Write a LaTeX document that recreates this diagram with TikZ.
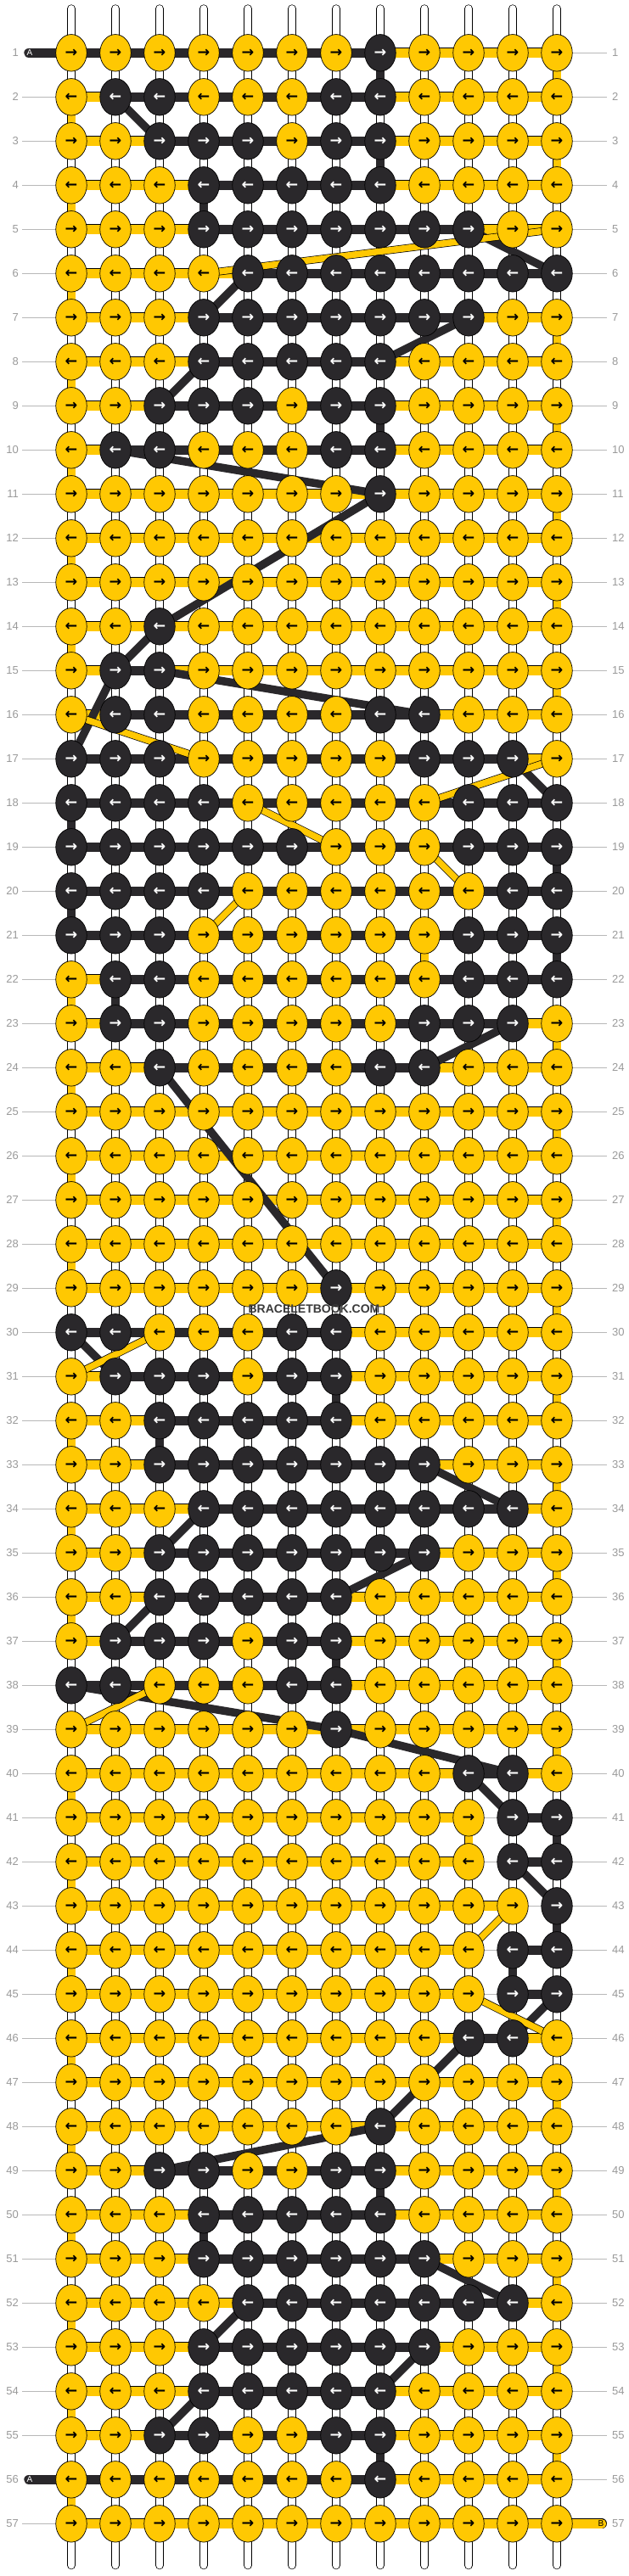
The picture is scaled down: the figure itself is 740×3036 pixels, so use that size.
\documentclass[tikz,border=0pt]{standalone}
\usepackage{fontspec}
\setmainfont{Liberation Sans}
\newfontfamily\arrowfont{DejaVu Sans}
\usetikzlibrary{shapes.geometric}
\definecolor{kyel}{HTML}{FFC802}
\definecolor{kblk}{HTML}{2A282B}
\definecolor{labgray}{HTML}{9A9A9A}
\definecolor{wmgray}{HTML}{3A3A3A}
\pgfdeclarelayer{bg}
\pgfsetlayers{bg,main}
\newcommand\karrow[1]{\ifodd#1\relax →\else ←\fi}
\def\rowdata{%
1/{0,0,0,0,0,0,0,1,0,0,0,0}/{1,1,1,1,1,1,1,0,0,0,0},
2/{0,1,1,0,0,0,1,1,0,0,0,0}/{0,1,1,1,1,1,1,0,0,0,0},
3/{0,0,1,1,1,0,1,1,0,0,0,0}/{0,0,1,1,1,1,1,0,0,0,0},
4/{0,0,0,1,1,1,1,1,0,0,0,0}/{0,0,0,1,1,1,1,0,0,0,0},
5/{0,0,0,1,1,1,1,1,1,1,0,0}/{0,0,0,1,1,1,1,1,1,0,0},
6/{0,0,0,0,1,1,1,1,1,1,1,1}/{0,0,0,0,1,1,1,1,1,1,1},
7/{0,0,0,1,1,1,1,1,1,1,0,0}/{0,0,0,1,1,1,1,1,1,0,0},
8/{0,0,0,1,1,1,1,1,0,0,0,0}/{0,0,0,1,1,1,1,0,0,0,0},
9/{0,0,1,1,1,0,1,1,0,0,0,0}/{0,0,1,1,1,1,1,0,0,0,0},
10/{0,1,1,0,0,0,1,1,0,0,0,0}/{0,1,1,1,1,1,1,0,0,0,0},
11/{0,0,0,0,0,0,0,1,0,0,0,0}/{0,0,0,0,0,0,0,0,0,0,0},
12/{0,0,0,0,0,0,0,0,0,0,0,0}/{0,0,0,0,0,0,0,0,0,0,0},
13/{0,0,0,0,0,0,0,0,0,0,0,0}/{0,0,0,0,0,0,0,0,0,0,0},
14/{0,0,1,0,0,0,0,0,0,0,0,0}/{0,0,0,0,0,0,0,0,0,0,0},
15/{0,1,1,0,0,0,0,0,0,0,0,0}/{0,1,0,0,0,0,0,0,0,0,0},
16/{0,1,1,0,0,0,0,1,1,0,0,0}/{0,1,1,1,1,1,1,1,0,0,0},
17/{1,1,1,0,0,0,0,0,1,1,1,0}/{1,1,1,1,1,1,1,1,1,1,0},
18/{1,1,1,1,0,0,0,0,0,1,1,1}/{1,1,1,1,1,1,1,1,1,1,1},
19/{1,1,1,1,1,1,0,0,0,1,1,1}/{1,1,1,1,1,1,1,1,1,1,1},
20/{1,1,1,1,0,0,0,0,0,0,1,1}/{1,1,1,1,1,1,1,1,1,1,1},
21/{1,1,1,0,0,0,0,0,0,1,1,1}/{1,1,1,1,1,1,1,1,1,1,1},
22/{0,1,1,0,0,0,0,0,0,1,1,1}/{0,1,1,1,1,1,1,1,1,1,1},
23/{0,1,1,0,0,0,0,0,1,1,1,0}/{0,1,1,1,1,1,1,1,1,1,0},
24/{0,0,1,0,0,0,0,1,1,0,0,0}/{0,0,1,1,1,1,1,1,0,0,0},
25/{0,0,0,0,0,0,0,0,0,0,0,0}/{0,0,0,0,0,0,0,0,0,0,0},
26/{0,0,0,0,0,0,0,0,0,0,0,0}/{0,0,0,0,0,0,0,0,0,0,0},
27/{0,0,0,0,0,0,0,0,0,0,0,0}/{0,0,0,0,0,0,0,0,0,0,0},
28/{0,0,0,0,0,0,0,0,0,0,0,0}/{0,0,0,0,0,0,0,0,0,0,0},
29/{0,0,0,0,0,0,1,0,0,0,0,0}/{0,0,0,0,0,0,0,0,0,0,0},
30/{1,1,0,0,0,1,1,0,0,0,0,0}/{1,1,1,1,1,1,0,0,0,0,0},
31/{0,1,1,1,0,1,1,0,0,0,0,0}/{0,1,1,1,1,1,0,0,0,0,0},
32/{0,0,1,1,1,1,1,0,0,0,0,0}/{0,0,1,1,1,1,0,0,0,0,0},
33/{0,0,1,1,1,1,1,1,1,0,0,0}/{0,0,1,1,1,1,1,1,0,0,0},
34/{0,0,0,1,1,1,1,1,1,1,1,0}/{0,0,0,1,1,1,1,1,1,1,0},
35/{0,0,1,1,1,1,1,1,1,0,0,0}/{0,0,1,1,1,1,1,1,0,0,0},
36/{0,0,1,1,1,1,1,0,0,0,0,0}/{0,0,1,1,1,1,0,0,0,0,0},
37/{0,1,1,1,0,1,1,0,0,0,0,0}/{0,1,1,1,1,1,0,0,0,0,0},
38/{1,1,0,0,0,1,1,0,0,0,0,0}/{1,1,1,1,1,1,0,0,0,0,0},
39/{0,0,0,0,0,0,1,0,0,0,0,0}/{0,0,0,0,0,0,0,0,0,0,0},
40/{0,0,0,0,0,0,0,0,0,1,1,0}/{0,0,0,0,0,0,0,0,0,1,0},
41/{0,0,0,0,0,0,0,0,0,0,1,1}/{0,0,0,0,0,0,0,0,0,2,1},
42/{0,0,0,0,0,0,0,0,0,0,1,1}/{0,0,0,0,0,0,0,0,0,2,1},
43/{0,0,0,0,0,0,0,0,0,0,0,1}/{0,0,0,0,0,0,0,0,0,0,2},
44/{0,0,0,0,0,0,0,0,0,0,1,1}/{0,0,0,0,0,0,0,0,0,2,1},
45/{0,0,0,0,0,0,0,0,0,0,1,1}/{0,0,0,0,0,0,0,0,0,2,1},
46/{0,0,0,0,0,0,0,0,0,1,1,0}/{0,0,0,0,0,0,0,0,0,1,0},
47/{0,0,0,0,0,0,0,0,0,0,0,0}/{0,0,0,0,0,0,0,0,0,0,0},
48/{0,0,0,0,0,0,0,1,0,0,0,0}/{0,0,0,0,0,0,0,0,0,0,0},
49/{0,0,1,1,0,0,1,1,0,0,0,0}/{0,0,1,1,1,1,1,0,0,0,0},
50/{0,0,0,1,1,1,1,1,0,0,0,0}/{0,0,0,1,1,1,1,0,0,0,0},
51/{0,0,0,1,1,1,1,1,1,0,0,0}/{0,0,0,1,1,1,1,1,0,0,0},
52/{0,0,0,0,1,1,1,1,1,1,1,0}/{0,0,0,0,1,1,1,1,1,1,0},
53/{0,0,0,1,1,1,1,1,1,0,0,0}/{0,0,0,1,1,1,1,1,0,0,0},
54/{0,0,0,1,1,1,1,1,0,0,0,0}/{0,0,0,1,1,1,1,0,0,0,0},
55/{0,0,1,1,0,0,1,1,0,0,0,0}/{0,0,1,1,1,1,1,0,0,0,0},
56/{0,0,0,0,0,0,0,1,0,0,0,0}/{1,1,1,1,1,1,1,0,0,0,0},
57/{0,0,0,0,0,0,0,0,0,0,0,0}/{0,0,0,0,0,0,0,0,0,0,0}}
\def\turndata{1/0,2/0,3/0,4/0,5/3,6/0,7/0,8/0,9/0,10/0,11/0,12/0,13/0,14/0,15/0,16/3,17/3,18/1,19/1,20/1,21/1,22/0,23/0,24/0,25/0,26/0,27/0,28/0,29/0,30/3,31/0,32/0,33/0,34/0,35/0,36/0,37/0,38/3,39/0,40/0,41/1,42/0,43/1,44/0,45/3,46/0,47/0,48/0,49/0,50/0,51/0,52/0,53/0,54/0,55/0,56/0}
\begin{document}
\begin{tikzpicture}[x=1pt,y=-1pt,
 knot/.style={ellipse, draw=black, line width=0.7pt, minimum width=36.5pt, minimum height=43.5pt, inner sep=0pt, font=\arrowfont\bfseries\fontsize{17.5}{17.5}\selectfont},
 lab/.style={text=labgray, font=\fontsize{13}{13}\selectfont, inner sep=0pt},
 labline/.style={draw=labgray!70, line width=0.9pt},
 strw/.style={draw=black, line width=0.7pt, double=white, double distance=8.5pt, line cap=round},
 vw/.style={draw=black, line width=0.7pt, double=white, double distance=8.5pt},
 vy/.style={draw=black, line width=0.7pt, double=kyel, double distance=9pt},
 vb/.style={draw=kblk, line width=10.5pt},
 hy/.style={draw=black, line width=0.7pt, double=kyel, double distance=10.5pt},
 hb/.style={draw=kblk, line width=11.5pt},
 hn/.style={draw=labgray!70, line width=0.9pt},
 dy/.style={draw=black, line width=0.7pt, double=kyel, double distance=7.5pt},
 db/.style={draw=kblk, line width=9.5pt},
 abar/.style={draw=kblk, line width=11.5pt, line cap=round},
 bbar/.style={draw=black, line width=0.7pt, double=kyel, double distance=10.5pt, line cap=round},
 endtext/.style={font=\fontsize{10}{10}\selectfont, inner sep=0pt},
 wm/.style={text=wmgray, font=\bfseries\fontsize{14}{14}\selectfont, inner sep=1pt}
]
\useasboundingbox (0,0) rectangle (740,3036);
% knots
\foreach \r/\k/\s in \rowdata {
  \foreach \v [count=\i] in \k {
    \ifnum\v=1 \def\kf{kblk}\def\kt{white}\else\def\kf{kyel}\def\kt{black}\fi
    \node[knot, fill=\kf, text=\kt] (k-\r-\i) at ({84+(\i-1)*52},{62.3+(\r-1)*52}) {\karrow{\r}};
  }
}
% row labels
\foreach \r in {1,...,57} {
  \node[lab, anchor=east] (ll-\r) at (22,{62.3+(\r-1)*52}) {\r};
  \node[lab, anchor=west] (lr-\r) at (721,{62.3+(\r-1)*52}) {\r};
}
\coordinate (aend1) at (34,62.3);
\coordinate (aend56) at (34,2922.3);
\coordinate (bend) at (709,2974.3);
\node[endtext, text=white] (ta1) at (35,62.3) {A};
\node[endtext, text=white] (ta56) at (35,2922.3) {A};
\node[endtext, text=black] (tb57) at (708,2974.3) {B};
\node[wm] (wm) at (370,1543) {BRACELETBOOK.COM};
\begin{pgfonlayer}{bg}
  \fill[white] (-1,-1) rectangle (741,3037);
  % label lines
  \foreach \r in {1,...,57} {
    \ifnum\r=1 \else\ifnum\r=56 \else
      \draw[labline] ([xshift=4pt]ll-\r.east) -- (k-\r-1.center);
    \fi\fi
    \ifnum\r=57 \else
      \draw[labline] (k-\r-12.center) -- ([xshift=-6pt]lr-\r.west);
    \fi
  }
  % top and bottom strings
  \foreach \i in {1,...,12} {
    \draw[strw] (k-1-\i.center) -- ++(0,-52);
    \draw[strw] (k-57-\i.center) -- ++(0,49);
  }
  % vertical white strings between rows
  \foreach \r in {1,...,56} {
    \pgfmathtruncatemacro\rr{\r+1}
    \foreach \i in {1,...,12} {
      \draw[vw] (k-\r-\i.center) -- (k-\rr-\i.center);
    }
  }
  % turning connectors
  \foreach \r/\c in \turndata {
    \pgfmathtruncatemacro\rr{\r+1}
    \ifodd\r\relax \def\cc{12}\else\def\cc{1}\fi
    \ifcase\c
      \draw[vy] (k-\r-\cc.center) -- (k-\rr-\cc.center);
    \or
      \draw[vb] (k-\r-\cc.center) -- (k-\rr-\cc.center);
    \else\fi
  }
  % interior coloured connectors
  \foreach \r/\i/\c in {1/8/1,3/8/1,4/4/1,9/8/1,21/9/0,22/2/1,31/7/1,32/3/1,37/7/1,41/10/0,44/11/1,49/8/1,50/4/1,55/8/1} {
    \pgfmathtruncatemacro\rr{\r+1}
    \ifcase\c
      \draw[vy] (k-\r-\i.center) -- (k-\rr-\i.center);
    \or
      \draw[vb] (k-\r-\i.center) -- (k-\rr-\i.center);
    \fi
  }
  % horizontal segments
  \foreach \r/\k/\s in \rowdata {
    \foreach \v [count=\i] in \s {
      \pgfmathtruncatemacro\j{\i+1}
      \ifcase\v
        \draw[hy] (k-\r-\i.center) -- (k-\r-\j.center);
      \or
        \draw[hb] (k-\r-\i.center) -- (k-\r-\j.center);
      \or
        \draw[hn] (k-\r-\i.center) -- (k-\r-\j.center);
      \fi
    }
  }
  % A and B ends
  \draw[abar] (aend1) -- (k-1-1.center);
  \draw[abar] (aend56) -- (k-56-1.center);
  \draw[bbar] (k-57-12.center) -- (bend);
  % diagonal threads
  \foreach \a/\b/\c/\d in {2/2/3/3,5/10/6/12,6/5/7/4,7/10/8/8,8/4/9/3,10/2/11/8,11/8/14/3,14/3/15/2,15/3/16/9,15/2/17/1,17/11/18/12,23/11/24/9,24/3/29/7,30/1/31/2,33/9/34/11,34/4/35/3,35/9/36/7,36/3/37/2,38/1/39/7,39/7/40/11,40/10/41/11,42/11/43/12,45/12/46/11,46/10/48/8,48/8/49/3,51/9/52/11,52/5/53/4,53/9/54/8,54/4/55/3} {
    \draw[db] (k-\a-\b.center) -- (k-\c-\d.center);
  }
  \foreach \a/\b/\c/\d in {5/12/6/4,16/1/17/4,17/12/18/9,18/5/19/7,19/9/20/10,20/5/21/4,30/3/31/1,38/3/39/1,43/11/44/10,45/10/46/12} {
    \draw[dy] (k-\a-\b.center) -- (k-\c-\d.center);
  }
\end{pgfonlayer}
\end{tikzpicture}
\end{document}
